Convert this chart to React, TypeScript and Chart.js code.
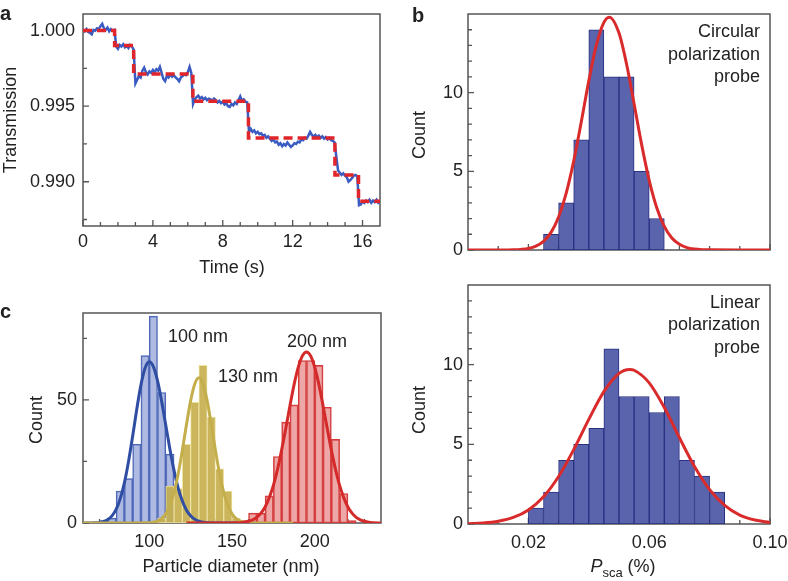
import React, { useEffect, useRef } from 'react';
import { Chart, registerables } from 'chart.js';

Chart.register(...registerables);

const FONT = '"Liberation Sans", Arial, Helvetica, sans-serif';
const TEXT = '#222222';

// ---------- Panel a : transmission trace ----------
const traceT0 = 0;
const traceDt = 0.1;
const traceValues = [
  1.00005, 0.99995, 1.00010, 0.99990, 0.99985, 0.99975, 1.00005, 1.00000, 1.00015, 1.00010,
  1.00030, 1.00045, 1.00015, 1.00005, 1.00020, 0.99995, 1.00010, 1.00000, 1.00005, 0.99895,
  0.99880, 0.99905, 0.99895, 0.99910, 0.99890, 0.99900, 0.99885, 0.99905, 0.99895, 0.99875,
  0.99650, 0.99675, 0.99700, 0.99690, 0.99735, 0.99755, 0.99725, 0.99710, 0.99730, 0.99720,
  0.99740, 0.99725, 0.99745, 0.99735, 0.99760, 0.99720, 0.99680, 0.99665, 0.99700, 0.99690,
  0.99710, 0.99695, 0.99705, 0.99690, 0.99680, 0.99665, 0.99690, 0.99700, 0.99710, 0.99705,
  0.99725, 0.99760, 0.99720, 0.99515, 0.99545, 0.99560, 0.99570, 0.99550, 0.99560, 0.99545,
  0.99555, 0.99540, 0.99550, 0.99545, 0.99535, 0.99550, 0.99540, 0.99525, 0.99535, 0.99520,
  0.99530, 0.99510, 0.99520, 0.99500, 0.99495, 0.99515, 0.99505, 0.99525, 0.99515, 0.99540,
  0.99565, 0.99535, 0.99545, 0.99530, 0.99525, 0.99330, 0.99350, 0.99330, 0.99340, 0.99320,
  0.99330, 0.99315, 0.99320, 0.99305, 0.99310, 0.99290, 0.99300, 0.99285, 0.99270, 0.99280,
  0.99260, 0.99265, 0.99245, 0.99255, 0.99235, 0.99250, 0.99240, 0.99260, 0.99245, 0.99230,
  0.99240, 0.99255, 0.99250, 0.99265, 0.99260, 0.99280, 0.99275, 0.99290, 0.99285, 0.99305,
  0.99330, 0.99310, 0.99300, 0.99310, 0.99295, 0.99305, 0.99290, 0.99300, 0.99285, 0.99295,
  0.99280, 0.99290, 0.99275, 0.99270, 0.99260, 0.99165, 0.99075, 0.99060, 0.99045, 0.99055,
  0.99040, 0.99030, 0.99000, 0.99010, 0.99025, 0.99040, 0.99045, 0.99035, 0.98845, 0.98850,
  0.98870, 0.98860, 0.98875, 0.98865, 0.98880, 0.98860, 0.98875, 0.98865, 0.98880, 0.98860,
  0.98870,
];
const stepTimes = [0, 1.81, 2.9, 6.29, 9.47, 14.42, 15.77, 17];
const stepLevels = [1.0, 0.99901, 0.99713, 0.99532, 0.99289, 0.99044, 0.9887, 0.9887];
const aXTicks = [0, 4, 8, 12, 16];
const aXMinor = [1, 2, 3, 5, 6, 7, 9, 10, 11, 13, 14, 15];
const aYTicks = [0.99, 0.995, 1.0];
const aYMinor = [0.9875, 0.9925, 0.9975];

// ---------- Panel b : P_sca histograms ----------
const bBinWidth = 0.005;
const circBinStart = [0.025, 0.03, 0.035, 0.04, 0.045, 0.05, 0.055, 0.06];
const circCounts = [1, 3, 7, 14, 11, 11, 5, 2];
const circFitX = [0, 0.005, 0.01, 0.0125, 0.015, 0.0175, 0.02, 0.0225, 0.025, 0.0275, 0.03, 0.0325, 0.035, 0.0375, 0.04, 0.0425, 0.045, 0.0468, 0.05, 0.0525, 0.055, 0.0575, 0.06, 0.0625, 0.065, 0.0675, 0.07, 0.0725, 0.075, 0.0775, 0.08, 0.09, 0.1];
const circFitY = [0, 0, 0, 0.004, 0.013, 0.039, 0.1, 0.25, 0.55, 1.12, 2.1, 3.6, 5.65, 8.13, 10.75, 13.02, 14.47, 14.8, 13.79, 11.82, 9.29, 6.7, 4.43, 2.69, 1.5, 0.76, 0.36, 0.15, 0.06, 0.02, 0.01, 0, 0];
const linBinStart = [0.02, 0.025, 0.03, 0.035, 0.04, 0.045, 0.05, 0.055, 0.06, 0.065, 0.07, 0.075, 0.08];
const linCounts = [1, 2, 4, 5, 6, 11, 8, 8, 7, 8, 4, 3, 2];
const linFitX = [0, 0.005, 0.01, 0.015, 0.02, 0.025, 0.03, 0.035, 0.04, 0.045, 0.05, 0.0535, 0.055, 0.06, 0.065, 0.07, 0.075, 0.08, 0.085, 0.09, 0.095, 0.1];
const linFitY = [0.02, 0.06, 0.17, 0.41, 0.88, 1.71, 2.98, 4.67, 6.57, 8.31, 9.45, 9.7, 9.65, 8.86, 7.31, 5.42, 3.61, 2.16, 1.17, 0.56, 0.25, 0.1];
const bXTicks = [0.02, 0.06, 0.1];
const bXMinor = [0.01, 0.03, 0.04, 0.05, 0.07, 0.08, 0.09];
const bYTicks = [0, 5, 10];
const bYMinor = [1, 2, 3, 4, 6, 7, 8, 9, 11, 12, 13, 14];

// ---------- Panel c : particle diameter histograms ----------
const cBinWidth = 5;
const blueBinStart = [70, 75, 80, 85, 90, 95, 100, 105, 110];
const blueCounts = [1, 2, 13, 18, 32, 68, 84, 53, 28];
const yellowBinStart = [105, 110, 115, 120, 125, 130, 135, 140, 145, 150];
const yellowCounts = [2, 15, 14, 32, 49, 64, 43, 22, 13, 2];
const redBinStart = [155, 160, 165, 170, 175, 180, 185, 190, 195, 200, 205, 210, 215, 220];
const redCounts = [1, 4, 4, 11, 27, 41, 48, 66, 66, 64, 47, 34, 12, 1];
const blueFitX = [60, 65, 67.5, 70, 72.5, 75, 77.5, 80, 82.5, 85, 87.5, 90, 92.5, 95, 97.5, 100, 102.5, 105, 107.5, 110, 112.5, 115, 117.5, 120, 122.5, 125, 127.5, 130, 132.5, 135, 140, 150, 160];
const blueFitY = [0, 0.03, 0.1, 0.25, 0.6, 1.4, 2.9, 5.5, 9.9, 16.3, 25.0, 35.3, 46.3, 56.1, 63.0, 65.5, 63.5, 57.8, 49.4, 39.7, 30.0, 21.3, 14.2, 8.9, 5.2, 2.9, 1.5, 0.7, 0.3, 0.1, 0, 0, 0];
const yellowFitX = [60, 80, 100, 102.5, 105, 107.5, 110, 112.5, 115, 117.5, 120, 122.5, 125, 127.5, 130, 132.5, 135, 137.5, 140, 142.5, 145, 147.5, 150, 152.5, 155, 157.5, 160, 170, 187];
const yellowFitY = [0, 0, 0.1, 0.3, 0.8, 1.8, 3.7, 7.1, 12.4, 20.0, 29.5, 40.0, 49.6, 56.5, 59, 56.5, 49.6, 40.0, 29.5, 20.0, 12.4, 7.1, 3.7, 1.8, 0.8, 0.3, 0.1, 0, 0];
const redFitX = [122.5, 140, 155, 157.5, 160, 162.5, 165, 167.5, 170, 172.5, 175, 177.5, 180, 182.5, 185, 187.5, 190, 192.5, 195, 197.5, 200, 202.5, 205, 207.5, 210, 212.5, 215, 217.5, 220, 222.5, 225, 227.5, 230, 232.5, 235, 240];
const redFitY = [0, 0, 0.1, 0.3, 0.7, 1.3, 2.3, 4.0, 6.5, 10.3, 15.3, 21.8, 29.7, 38.5, 47.6, 56.2, 63.2, 67.9, 69.5, 67.9, 63.2, 56.2, 47.6, 38.5, 29.7, 21.8, 15.3, 10.3, 6.5, 4.0, 2.3, 1.3, 0.7, 0.3, 0.1, 0];
const cXTicks = [100, 150, 200];
const cXMinor = [70, 80, 90, 110, 120, 130, 140, 160, 170, 180, 190, 210, 220, 230];
const cYTicks = [0, 50];
const cYMinor = [25, 75];

// ---------- helpers ----------
const pairs = (xs: number[], ys: number[]) => xs.map((x, i) => ({ x, y: ys[i] }));
const bins = (starts: number[], counts: number[], w: number) => starts.map((s, i) => ({ x: s + w / 2, y: counts[i] }));

function xScale(min: number, max: number, major: number[], fmt: (v: number) => string, height: number, pad: number, show = true) {
  return {
    type: 'linear', min, max, offset: false,
    grid: { display: false, drawTicks: false, tickLength: 0 }, border: { display: false },
    ticks: { display: show, padding: pad, autoSkip: false, maxRotation: 0, minRotation: 0, color: TEXT, font: { size: 18, family: FONT }, callback: (v: any) => fmt(Number(v)) },
    afterBuildTicks: (s: any) => { s.ticks = major.map((v) => ({ value: v })); },
    afterFit: (s: any) => { s.height = height; s.paddingLeft = 0; s.paddingRight = 0; },
  };
}
function yScale(min: number, max: number, major: number[], fmt: (v: number) => string, width: number, pad: number) {
  return {
    type: 'linear', min, max,
    grid: { display: false, drawTicks: false, tickLength: 0 }, border: { display: false },
    ticks: { padding: pad, autoSkip: false, color: TEXT, font: { size: 18, family: FONT }, callback: (v: any) => fmt(Number(v)) },
    afterBuildTicks: (s: any) => { s.ticks = major.map((v) => ({ value: v })); },
    afterFit: (s: any) => { s.width = width; s.paddingTop = 0; s.paddingBottom = 0; },
  };
}

function framePlugin(t: { xMajor: number[]; xMinor: number[]; yMajor: number[]; yMinor: number[] }) {
  return {
    id: 'frameTicks',
    beforeDatasetsDraw(chart: any) {
      const { ctx, chartArea: a } = chart;
      const xs = chart.scales.x, ys = chart.scales.y;
      ctx.save();
      ctx.strokeStyle = '#555555';
      ctx.lineWidth = 1.5;
      ctx.strokeRect(a.left, a.top, a.right - a.left, a.bottom - a.top);
      ctx.lineWidth = 1.3;
      ctx.beginPath();
      const xt = (vals: number[], len: number) => vals.forEach((v) => { const p = xs.getPixelForValue(v); ctx.moveTo(p, a.bottom); ctx.lineTo(p, a.bottom - len); });
      const yt = (vals: number[], len: number) => vals.forEach((v) => { const p = ys.getPixelForValue(v); ctx.moveTo(a.left, p); ctx.lineTo(a.left + len, p); });
      xt(t.xMajor, 6); xt(t.xMinor, 4); yt(t.yMajor, 6); yt(t.yMinor, 4);
      ctx.stroke();
      ctx.restore();
    },
  };
}

type Item = { text?: string; parts?: { text: string; font: string; dy?: number }[]; x: number; y: number; font?: string; align?: string; rotate?: number; baseline?: string };
function textPlugin(items: Item[]) {
  return {
    id: 'texts',
    afterDraw(chart: any) {
      const ctx = chart.ctx;
      for (const it of items) {
        ctx.save();
        ctx.fillStyle = TEXT;
        ctx.translate(it.x, it.y);
        if (it.rotate) ctx.rotate(it.rotate);
        if (it.parts) {
          let total = 0;
          for (const p of it.parts) { ctx.font = p.font; total += ctx.measureText(p.text).width; }
          let cx = it.align === 'center' ? -total / 2 : 0;
          ctx.textAlign = 'left';
          ctx.textBaseline = 'alphabetic';
          for (const p of it.parts) { ctx.font = p.font; ctx.fillText(p.text, cx, p.dy || 0); cx += ctx.measureText(p.text).width; }
        } else {
          ctx.font = it.font || `18px ${FONT}`;
          ctx.textAlign = it.align || 'left';
          ctx.textBaseline = it.baseline || 'alphabetic';
          ctx.fillText(it.text, 0, 0);
        }
        ctx.restore();
      }
    },
  };
}

const baseOptions = (padding: any) => ({
  animation: false,
  responsive: false,
  events: [],
  layout: { padding },
  plugins: { legend: { display: false }, tooltip: { enabled: false } },
});

const F18 = `18px ${FONT}`;
const BOLD = `bold 20px ${FONT}`;

function configA(): any {
  return {
    type: 'line',
    data: {
      datasets: [
        { label: 'Step fit', data: pairs(stepTimes, stepLevels), stepped: 'before', borderColor: '#e0262b', borderWidth: 3.5, borderDash: [9, 5], pointRadius: 0, fill: false, order: 0 },
        { label: 'Transmission', data: traceValues.map((v, i) => ({ x: traceT0 + i * traceDt, y: v })), borderColor: '#3a5cc2', borderWidth: 2.5, pointRadius: 0, tension: 0, fill: false, order: 1 },
      ],
    },
    options: {
      ...baseOptions({ top: 14, right: 10, left: 0, bottom: 0 }),
      scales: {
        x: xScale(0, 17, aXTicks, (v) => String(v), 64, 5),
        y: yScale(0.98707, 1.0011, aYTicks, (v) => v.toFixed(3), 83, 8),
      },
    },
    plugins: [
      framePlugin({ xMajor: aXTicks, xMinor: aXMinor, yMajor: aYTicks, yMinor: aYMinor }),
      textPlugin([
        { text: 'a', x: 0, y: 20, font: BOLD },
        { text: 'Transmission', x: 11, y: 120, rotate: -Math.PI / 2, align: 'center', baseline: 'middle' },
        { text: 'Time (s)', x: 232, y: 273, align: 'center' },
      ]),
    ],
  };
}

function histDatasets(starts: number[], counts: number[], fx: number[], fy: number[]) {
  return [
    { type: 'line', label: 'Gaussian fit', data: pairs(fx, fy), borderColor: '#d92b2b', borderWidth: 3, pointRadius: 0, cubicInterpolationMode: 'monotone', fill: false, order: 0 },
    { type: 'bar', label: 'Count', data: bins(starts, counts, bBinWidth), backgroundColor: '#5a64ad', borderColor: '#283080', borderWidth: 1, borderSkipped: false, grouped: false, barPercentage: 1, categoryPercentage: 1, order: 1 },
  ];
}

function configBTop(): any {
  return {
    type: 'bar',
    data: { datasets: histDatasets(circBinStart, circCounts, circFitX, circFitY) },
    options: {
      ...baseOptions({ top: 14, right: 18, left: 0, bottom: 0 }),
      scales: {
        x: xScale(0, 0.1, bXTicks, (v) => v.toFixed(2), 30, 7, false),
        y: yScale(0, 15, bYTicks, (v) => String(v), 78, 5),
      },
    },
    plugins: [
      framePlugin({ xMajor: bXTicks, xMinor: bXMinor, yMajor: bYTicks, yMinor: bYMinor }),
      textPlugin([
        { text: 'b', x: 22, y: 22, font: BOLD },
        { text: 'Count', x: 30, y: 135, rotate: -Math.PI / 2, align: 'center', baseline: 'middle' },
        { text: 'Circular', x: 370, y: 37, align: 'right' },
        { text: 'polarization', x: 370, y: 60, align: 'right' },
        { text: 'probe', x: 370, y: 82, align: 'right' },
      ]),
    ],
  };
}

function configBBottom(): any {
  return {
    type: 'bar',
    data: { datasets: histDatasets(linBinStart, linCounts, linFitX, linFitY) },
    options: {
      ...baseOptions({ top: 5, right: 18, left: 0, bottom: 0 }),
      scales: {
        x: xScale(0, 0.1, bXTicks, (v) => v.toFixed(2), 57, 8),
        y: yScale(0, 15, bYTicks, (v) => String(v), 78, 5),
      },
    },
    plugins: [
      framePlugin({ xMajor: bXTicks, xMinor: bXMinor, yMajor: bYTicks, yMinor: bYMinor }),
      textPlugin([
        { text: 'Count', x: 30, y: 130, rotate: -Math.PI / 2, align: 'center', baseline: 'middle' },
        { text: 'Linear', x: 370, y: 28, align: 'right' },
        { text: 'polarization', x: 370, y: 50, align: 'right' },
        { text: 'probe', x: 370, y: 73, align: 'right' },
        { parts: [
          { text: 'P', font: `italic 18px ${FONT}` },
          { text: 'sca', font: `13px ${FONT}`, dy: 5 },
          { text: ' (%)', font: F18 },
        ], x: 233, y: 292, align: 'center' },
      ]),
    ],
  };
}

function configC(): any {
  const bar = (starts: number[], counts: number[], bg: string, bd: string, order: number, label: string) => ({
    type: 'bar', label, data: bins(starts, counts, cBinWidth), backgroundColor: bg, borderColor: bd, borderWidth: 1,
    borderSkipped: false, grouped: false, barPercentage: 1, categoryPercentage: 1, order,
  });
  const line = (fx: number[], fy: number[], color: string, order: number, label: string) => ({
    type: 'line', label, data: pairs(fx, fy), borderColor: color, borderWidth: 3, pointRadius: 0,
    cubicInterpolationMode: 'monotone', fill: false, order,
  });
  return {
    type: 'bar',
    data: {
      datasets: [
        line(redFitX, redFitY, '#d42a2a', 0, '200 nm fit'),
        line(yellowFitX, yellowFitY, '#c4ae4c', 1, '130 nm fit'),
        line(blueFitX, blueFitY, '#2f4ea3', 2, '100 nm fit'),
        bar(redBinStart, redCounts, 'rgba(222, 95, 95, 0.55)', '#d33a3a', 3, '200 nm'),
        bar(yellowBinStart, yellowCounts, 'rgba(196, 172, 72, 0.88)', 'rgba(236, 224, 160, 0.95)', 4, '130 nm'),
        bar(blueBinStart, blueCounts, 'rgba(125, 143, 206, 0.62)', '#4a63b5', 5, '100 nm'),
      ],
    },
    options: {
      ...baseOptions({ top: 18, right: 9, left: 0, bottom: 0 }),
      scales: {
        x: xScale(60, 240, cXTicks, (v) => String(v), 58, 8),
        y: yScale(0, 85.3, cYTicks, (v) => String(v), 83, 6),
      },
    },
    plugins: [
      framePlugin({ xMajor: cXTicks, xMinor: cXMinor, yMajor: cYTicks, yMinor: cYMinor }),
      textPlugin([
        { text: 'c', x: 0, y: 23, font: BOLD },
        { text: 'Count', x: 37, y: 125, rotate: -Math.PI / 2, align: 'center', baseline: 'middle' },
        { text: 'Particle diameter (nm)', x: 231, y: 277, align: 'center' },
        { text: '100 nm', x: 168, y: 47 },
        { text: '130 nm', x: 218, y: 87 },
        { text: '200 nm', x: 287, y: 52 },
      ]),
    ],
  };
}

function ChartCanvas({ left, top, width, height, make }: { left: number; top: number; width: number; height: number; make: () => any }) {
  const ref = useRef<HTMLCanvasElement>(null);
  useEffect(() => {
    const chart = new Chart(ref.current as HTMLCanvasElement, make());
    return () => chart.destroy();
  }, []);
  return (
    <canvas
      ref={ref}
      width={width}
      height={height}
      style={{ position: 'absolute', left, top, width, height, display: 'block' }}
    />
  );
}

export default function App() {
  return (
    <div style={{ position: 'absolute', left: 0, top: 0, width: 788, height: 581, background: '#ffffff', overflow: 'hidden' }}>
      <ChartCanvas left={0} top={0} width={390} height={290} make={configA} />
      <ChartCanvas left={390} top={0} width={398} height={280} make={configBTop} />
      <ChartCanvas left={0} top={295} width={390} height={286} make={configC} />
      <ChartCanvas left={390} top={280} width={398} height={301} make={configBBottom} />
    </div>
  );
}
